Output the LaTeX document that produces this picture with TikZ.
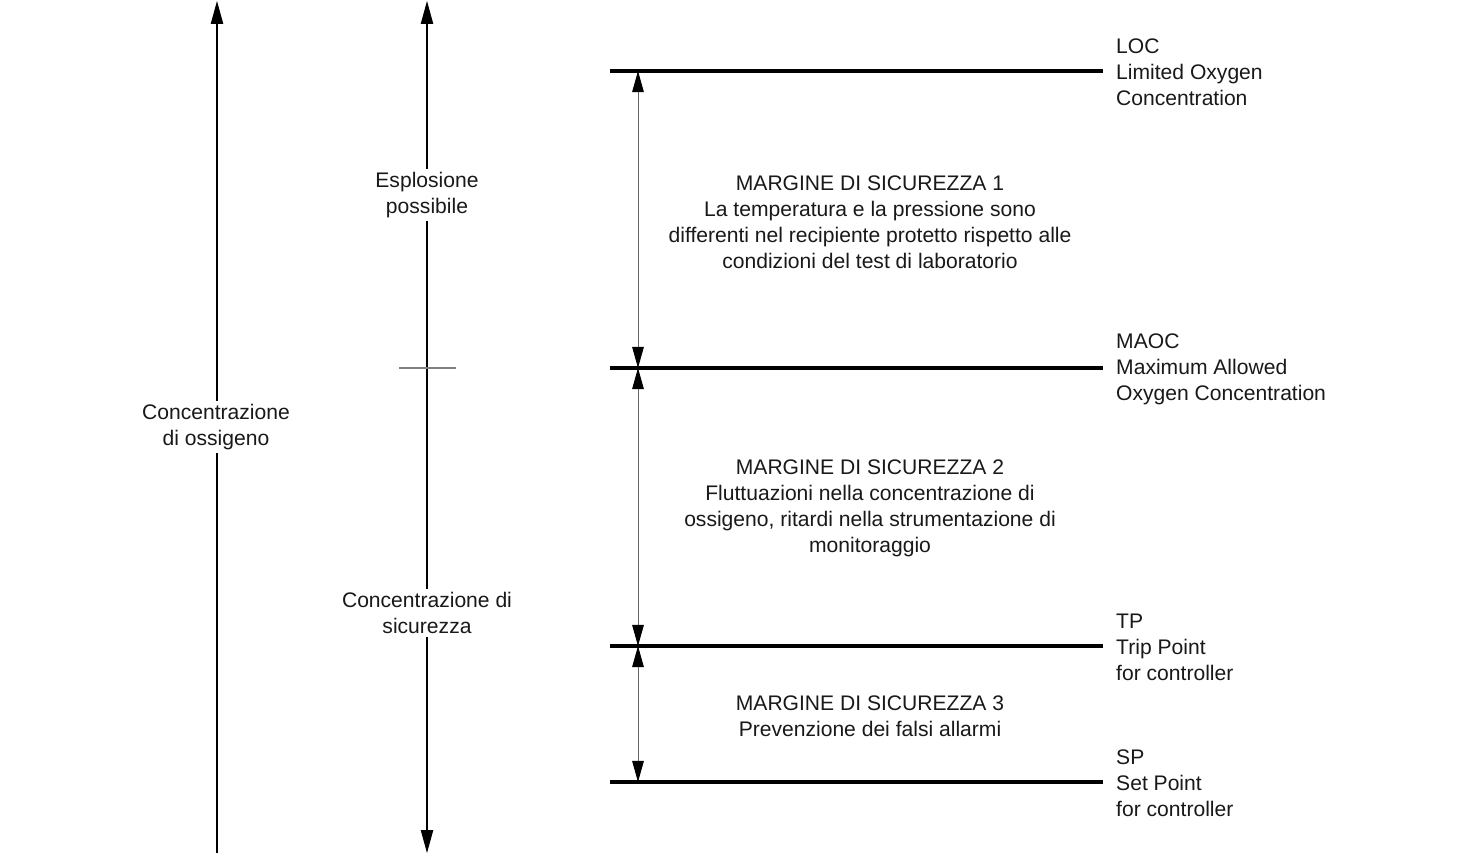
\documentclass[tikz,border=0pt]{standalone}
\usepackage{fontspec}
\setmainfont{Liberation Sans}
\usetikzlibrary{arrows.meta}

\begin{document}
\begin{tikzpicture}[x=0.02cm, y=-0.02cm,
    every node/.style={font=\fontsize{12}{14.8}\selectfont, text=black!90},
    axtip/.tip={Triangle[length=13pt, width=7pt]},
    dimtip/.tip={Triangle[length=12pt, width=6.6pt, color=black]},
    axis/.style={line width=0.6pt},
    level/.style={line width=1.8pt},
    dim/.style={line width=0.5pt, black!60, {dimtip}-{dimtip}},
    gap/.style={fill=white, align=center, inner sep=2pt},
    note/.style={align=center},
    tag/.style={align=left, anchor=west}]

  \useasboundingbox (0,0) rectangle (1470,855);

  %% Left: oxygen concentration axis
  \coordinate (ox-bot) at (217,853);
  \coordinate (ox-top) at (217,1);
  \draw[axis, -{axtip}] (ox-bot) -- (ox-top);
  \node[gap] (ox-lbl) at (216,427) {Concentrazione\\di ossigeno};

  %% Middle: explosion / safe regions
  \coordinate (zn-top) at (427,1);
  \coordinate (zn-bot) at (427,853);
  \draw[axis, {axtip}-{axtip}] (zn-top) -- (zn-bot);
  \coordinate (zn-l) at (399,368);
  \coordinate (zn-r) at (456,368);
  \draw[line width=0.6pt, black!50] (zn-l) -- (zn-r);
  \node[gap] (zn-exp) at (427,195) {Esplosione\\possibile};
  \node[gap] (zn-safe) at (427,613) {Concentrazione di\\sicurezza};

  %% Right: concentration levels
  \coordinate (loc-l) at (610,71);   \coordinate (loc-r) at (1103,71);
  \coordinate (maoc-l) at (610,368); \coordinate (maoc-r) at (1103,368);
  \coordinate (tp-l) at (610,646);   \coordinate (tp-r) at (1103,646);
  \coordinate (sp-l) at (610,782);   \coordinate (sp-r) at (1103,782);
  \draw[level] (loc-l) -- (loc-r);
  \draw[level] (maoc-l) -- (maoc-r);
  \draw[level] (tp-l) -- (tp-r);
  \draw[level] (sp-l) -- (sp-r);

  \node[tag] (loc) at (1110,72) {LOC\\Limited Oxygen\\Concentration};
  \node[tag] (maoc) at (1110,369) {MAOC\\Maximum Allowed\\Oxygen Concentration};
  \node[tag] (tp) at (1110,647) {TP\\Trip Point\\for controller};
  \node[tag] (sp) at (1110,783) {SP\\Set Point\\for controller};

  %% Safety margins
  \coordinate (d1) at (638,71);
  \coordinate (d2) at (638,368);
  \coordinate (d3) at (638,646);
  \coordinate (d4) at (638,782);
  \draw[dim] (d1) -- (d2);
  \draw[dim] (d2) -- (d3);
  \draw[dim] (d3) -- (d4);

  \node[note] (m1) at (870,222) {MARGINE DI SICUREZZA 1\\La temperatura e la pressione sono\\differenti nel recipiente protetto rispetto alle\\condizioni del test di laboratorio};
  \node[note] (m2) at (870,508) {MARGINE DI SICUREZZA 2\\Fluttuazioni nella concentrazione di\\ossigeno, ritardi nella strumentazione di\\monitoraggio};
  \node[note] (m3) at (870,716) {MARGINE DI SICUREZZA 3\\Prevenzione dei falsi allarmi};

\end{tikzpicture}
\end{document}
